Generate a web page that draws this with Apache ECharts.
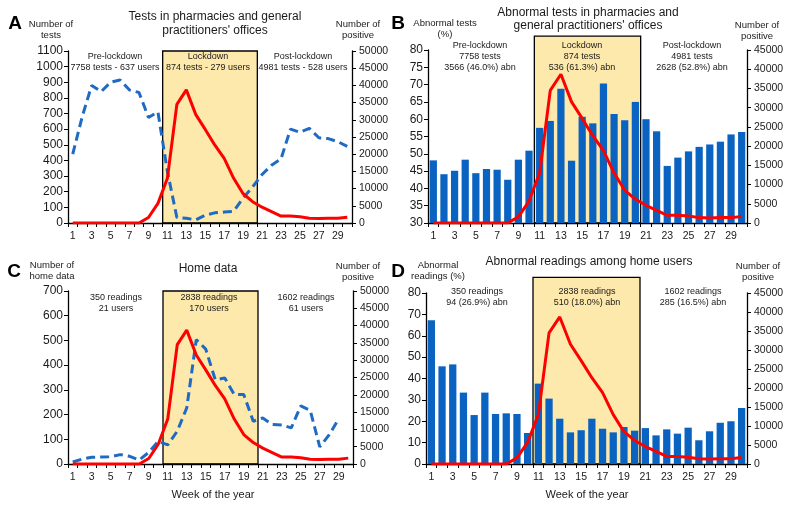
<!DOCTYPE html>
<html><head><meta charset="utf-8">
<script src="https://cdn.jsdelivr.net/npm/echarts@6/dist/echarts.min.js"></script>
<style>html,body{margin:0;padding:0;background:#fff}#c{width:800px;height:509px}</style>
</head><body><div id="c"></div>
<script>
// ---------- data ----------
const weeks = ['1','2','3','4','5','6','7','8','9','10','11','12','13','14','15','16','17','18','19','20','21','22','23','24','25','26','27','28','29','30'];
const lockdownWeeks = ['11', '20'];
const positive = [0,0,0,0,0,0,0,0,1600,5700,13000,34500,38700,31500,27200,22700,18800,13000,8500,6200,4600,3300,2000,2000,1800,1400,1300,1400,1400,1700];
const pharmacyTests = [440,680,880,840,900,915,850,835,675,710,330,35,30,20,50,65,70,75,160,230,310,370,410,600,580,605,545,540,520,490];
const pharmacyAbnPct = [48.1,44.1,45.1,48.3,44.4,45.6,45.4,42.5,48.3,50.9,57.5,59.5,68.8,48.0,60.7,58.8,70.3,61.5,59.7,65.0,60.0,56.5,46.5,48.9,50.7,52.0,52.7,53.5,55.6,56.3];
const homeReadings = [8,20,27,28,29,38,31,16,47,92,77,133,227,503,465,341,348,281,281,173,186,160,158,146,235,217,69,119,183,null];
const homeAbnPct = [67.2,45.7,46.6,33.4,22.9,33.4,23.4,23.7,23.4,14.5,37.6,30.6,21.2,14.8,15.8,21.2,16.5,14.8,17.3,15.6,16.8,13.4,16.2,14.2,17.0,11.1,15.3,19.3,20.0,26.2];

// ---------- style ----------
const FONT = '"Liberation Sans", Arial, sans-serif';
const TXT = '#1a1a1a';
const RED = '#ff0000';
const BLUE = '#1f6bc4';
const BAR = '#0a63c1';
const BOXFILL = '#fde9ab';

const chart = echarts.init(document.getElementById('c'), null, {renderer: 'canvas'});

const grids = [
  {left: 68, top: 51, width: 284, height: 172},
  {left: 428, top: 50, width: 319, height: 173},
  {left: 68, top: 291, width: 285, height: 173},
  {left: 426, top: 293, width: 321, height: 171}
];

function xAx(i) {
  return {
    type: 'category', gridIndex: i, data: weeks, boundaryGap: true,
    axisLine: {lineStyle: {color: '#000', width: 1.3}},
    axisTick: {show: true, interval: 0, length: 4, lineStyle: {color: '#000'}},
    axisLabel: {interval: 1, fontSize: 10.5, color: TXT, fontFamily: FONT, margin: 8},
    splitLine: {show: false}
  };
}
function yAx(i, min, max, interval, pos) {
  return {
    type: 'value', gridIndex: i, min, max, interval, position: pos,
    axisLine: {show: true, lineStyle: {color: '#000', width: 1.3}},
    axisTick: {show: true, length: 4, lineStyle: {color: '#000'}},
    axisLabel: {fontSize: pos === 'left' ? 12 : 10.5, color: TXT, fontFamily: FONT,
      margin: pos === 'left' ? 5 : 7, formatter: function (v) { return String(v); }},
    splitLine: {show: false}
  };
}

const xAxis = [xAx(0), xAx(1), xAx(2), xAx(3)];
const yAxis = [
  yAx(0, 0, 1100, 100, 'left'), yAx(0, 0, 50000, 5000, 'right'),
  yAx(1, 30, 80, 5, 'left'), yAx(1, 0, 45000, 5000, 'right'),
  yAx(2, 0, 700, 100, 'left'), yAx(2, 0, 50000, 5000, 'right'),
  yAx(3, 0, 80, 10, 'left'), yAx(3, 0, 45000, 5000, 'right')
];

function boxSeries(i, yIdx, y0, y1) {
  const a = weeks.indexOf(lockdownWeeks[0]);
  const b = weeks.indexOf(lockdownWeeks[1]);
  return {
    type: 'custom', xAxisIndex: i, yAxisIndex: yIdx, z: 0, silent: true, clip: false,
    dimensions: ['x0', 'x1', 'y0', 'y1'],
    encode: {x: ['x0', 'x1'], y: ['y0', 'y1']},
    data: [[a, b, y0, y1]],
    renderItem: function (params, api) {
      const p0 = api.coord([api.value(0), api.value(2)]);
      const p1 = api.coord([api.value(1), api.value(3)]);
      const bw = api.size([1, 0])[0];
      return {
        type: 'rect',
        shape: {x: p0[0] - bw / 2, y: p1[1], width: p1[0] - p0[0] + bw, height: p0[1] - p1[1]},
        style: {fill: BOXFILL, stroke: '#000', lineWidth: 1.3}
      };
    }
  };
}
function redLine(i, yIdx) {
  return {type: 'line', xAxisIndex: i, yAxisIndex: yIdx, data: positive, symbol: 'none', z: 5,
    lineStyle: {color: RED, width: 3}, itemStyle: {color: RED}};
}
function blueDash(i, yIdx, d) {
  return {type: 'line', xAxisIndex: i, yAxisIndex: yIdx, data: d, symbol: 'none', z: 4,
    lineStyle: {color: BLUE, width: 3, type: [9, 5]}, itemStyle: {color: BLUE}};
}
function bars(i, yIdx, d) {
  return {type: 'bar', xAxisIndex: i, yAxisIndex: yIdx, data: d, barWidth: '68%', z: 3,
    itemStyle: {color: BAR}};
}

const series = [
  boxSeries(0, 0, 0, 1100), blueDash(0, 0, pharmacyTests), redLine(0, 1),
  boxSeries(1, 2, 30, 84), bars(1, 2, pharmacyAbnPct), redLine(1, 3),
  boxSeries(2, 4, 0, 700), blueDash(2, 4, homeReadings), redLine(2, 5),
  boxSeries(3, 6, 0, 87.3), bars(3, 6, homeAbnPct), redLine(3, 7)
];

function t(x, y, str, size, extra) {
  return {type: 'text', silent: true, z: 100,
    style: Object.assign({text: str, x: x, y: y, fill: TXT, fontSize: size, fontFamily: FONT,
      textAlign: 'center', textVerticalAlign: 'middle', align: 'center', verticalAlign: 'middle'}, extra || {})};
}
const bold = {fontWeight: 'bold', fill: '#000'};

const graphic = [
  // Panel letters
  t(15, 24, 'A', 19, bold), t(398, 24, 'B', 19, bold), t(14, 272, 'C', 19, bold), t(398, 272, 'D', 19, bold),
  // Panel A
  t(215, 17, 'Tests in pharmacies and general', 12), t(215, 31, "practitioners' offices", 12),
  t(51, 24, 'Number of', 9.5), t(51, 35, 'tests', 9.5),
  t(358, 24, 'Number of', 9.5), t(358, 35, 'positive', 9.5),
  t(115, 57, 'Pre-lockdown', 9), t(115, 68, '7758 tests - 637 users', 9),
  t(208, 57, 'Lockdown', 9), t(208, 68, '874 tests - 279 users', 9),
  t(303, 57, 'Post-lockdown', 9), t(303, 68, '4981 tests - 528 users', 9),
  // Panel B
  t(588, 13, 'Abnormal tests in pharmacies and', 12), t(588, 26, "general practitioners' offices", 12),
  t(445, 23, 'Abnormal tests', 9.5), t(445, 34, '(%)', 9.5),
  t(757, 25, 'Number of', 9.5), t(757, 36, 'positive', 9.5),
  t(480, 46, 'Pre-lockdown', 9), t(480, 57, '7758 tests', 9), t(480, 67.5, '3566 (46.0%) abn', 9),
  t(582, 46, 'Lockdown', 9), t(582, 57, '874 tests', 9), t(582, 67.5, '536 (61.3%) abn', 9),
  t(692, 46, 'Post-lockdown', 9), t(692, 57, '4981 tests', 9), t(692, 67.5, '2628 (52.8%) abn', 9),
  // Panel C
  t(208, 269, 'Home data', 12),
  t(52, 265, 'Number of', 9.5), t(52, 276, 'home data', 9.5),
  t(358, 266, 'Number of', 9.5), t(358, 277, 'positive', 9.5),
  t(116, 298, '350 readings', 9), t(116, 309, '21 users', 9),
  t(209, 298, '2838 readings', 9), t(209, 309, '170 users', 9),
  t(306, 298, '1602 readings', 9), t(306, 309, '61 users', 9),
  t(213, 495, 'Week of the year', 11),
  // Panel D
  t(589, 262, 'Abnormal readings among home users', 12),
  t(438, 265, 'Abnormal', 9.5), t(438, 276, 'readings (%)', 9.5),
  t(758, 266, 'Number of', 9.5), t(758, 277, 'positive', 9.5),
  t(477, 292, '350 readings', 9), t(477, 303, '94 (26.9%) abn', 9),
  t(587, 292, '2838 readings', 9), t(587, 303, '510 (18.0%) abn', 9),
  t(693, 292, '1602 readings', 9), t(693, 303, '285 (16.5%) abn', 9),
  t(587, 495, 'Week of the year', 11)
];

chart.setOption({
  animation: false,
  backgroundColor: '#fff',
  textStyle: {fontFamily: FONT},
  grid: grids,
  xAxis: xAxis,
  yAxis: yAxis,
  series: series,
  graphic: graphic
});
</script>
</body></html>
